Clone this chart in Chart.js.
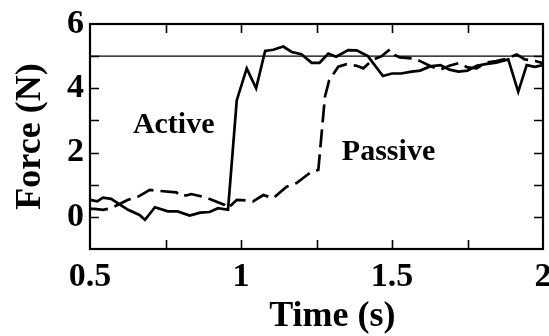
<!DOCTYPE html>
<html><head><meta charset="utf-8">
<style>html,body{margin:0;padding:0;background:#fff}#wrap{width:549px;height:336px;position:relative}</style>
<script src="https://cdn.jsdelivr.net/npm/chart.js@4.4.0/dist/chart.umd.min.js"></script>
</head><body><div id="wrap"><canvas id="c" width="549" height="336"></canvas></div>
<script>
const activeTime  = [0.500,0.524,0.543,0.570,0.626,0.664,0.682,0.715,0.758,0.790,0.830,0.865,0.896,0.924,0.957,0.986,1.019,1.050,1.080,1.107,1.140,1.168,1.200,1.234,1.260,1.289,1.315,1.355,1.383,1.420,1.470,1.500,1.530,1.565,1.593,1.626,1.660,1.690,1.720,1.750,1.780,1.810,1.845,1.885,1.918,1.946,1.973,2.000];
const activeForce = [0.53,0.48,0.60,0.56,0.22,0.06,-0.09,0.30,0.17,0.17,0.04,0.13,0.15,0.27,0.22,3.63,4.62,4.00,5.16,5.20,5.30,5.13,5.06,4.79,4.79,5.08,4.98,5.19,5.18,5.00,4.38,4.46,4.46,4.52,4.55,4.68,4.72,4.58,4.52,4.55,4.70,4.75,4.80,4.90,3.89,4.72,4.67,4.72];
const passiveTime  = [0.500,0.515,0.543,0.570,0.626,0.660,0.698,0.714,0.786,0.802,0.825,0.835,0.863,0.890,0.946,0.957,0.986,1.019,1.040,1.074,1.107,1.151,1.184,1.234,1.256,1.278,1.292,1.322,1.350,1.383,1.405,1.435,1.466,1.493,1.510,1.526,1.565,1.590,1.630,1.660,1.690,1.720,1.750,1.780,1.810,1.845,1.880,1.913,1.940,1.975,2.000];
const passiveForce = [0.25,0.25,0.22,0.27,0.53,0.63,0.84,0.82,0.76,0.65,0.68,0.71,0.65,0.58,0.37,0.27,0.53,0.51,0.48,0.68,0.58,0.94,1.05,1.41,1.46,3.74,4.25,4.67,4.75,4.70,4.62,4.88,5.00,5.21,5.03,4.96,4.93,4.86,4.68,4.58,4.70,4.78,4.65,4.62,4.80,4.85,4.92,5.05,4.90,4.85,4.78];
const refTime  = [0.5, 2.0];
const refForce = [5, 5];
const xTickLabels = [0.5, 1, 1.5, 2];
const yTickLabels = [0, 2, 4, 6];
const xTickMarks = [0.75, 1, 1.25, 1.5, 1.75];
const yTickMarks = [0, 1, 2, 3, 4, 5];
const seriesNames = ['Active', 'Passive'];
const xTitle = 'Time (s)';
const yTitle = 'Force (N)';

const FONT = '"Liberation Serif", "Times New Roman", serif';
const toPts = (t, f) => t.map((v, i) => ({x: v, y: f[i]}));

const labelPlugin = {
  id: 'frameAndLabels',
  afterDatasetsDraw(chart) {
    const {ctx, chartArea: a, scales: {x, y}} = chart;
    ctx.save();
    ctx.strokeStyle = '#000';
    ctx.lineWidth = 1.6;
    const L = 9;
    ctx.beginPath();
    xTickMarks.forEach(v => {
      const px = Math.round(x.getPixelForValue(v)) + 0.5;
      ctx.moveTo(px, a.bottom); ctx.lineTo(px, a.bottom - L);
      ctx.moveTo(px, a.top); ctx.lineTo(px, a.top + L);
    });
    yTickMarks.forEach(v => {
      const py = Math.round(y.getPixelForValue(v)) + 0.5;
      ctx.moveTo(a.left, py); ctx.lineTo(a.left + L, py);
      ctx.moveTo(a.right, py); ctx.lineTo(a.right - L, py);
    });
    ctx.stroke();
    ctx.lineWidth = 2.2;
    ctx.strokeRect(a.left, a.top, a.right - a.left, a.bottom - a.top);
    ctx.fillStyle = '#000';
    ctx.font = 'bold 30px ' + FONT;
    ctx.textBaseline = 'alphabetic';
    ctx.textAlign = 'left';
    ctx.fillText(seriesNames[0], x.getPixelForValue(0.642), y.getPixelForValue(2.61));
    ctx.fillText(seriesNames[1], x.getPixelForValue(1.334), y.getPixelForValue(1.77));
    ctx.font = 'bold 36px ' + FONT;
    ctx.textAlign = 'center';
    ctx.fillText(xTitle, a.left + (a.right - a.left) * 0.535, chart.height - 10);
    ctx.restore();
  }
};

new Chart(document.getElementById('c'), {
  type: 'scatter',
  data: {
    datasets: [
      {label: 'Reference', data: toPts(refTime, refForce), showLine: true, borderColor: '#000', borderWidth: 1.4, pointRadius: 0},
      {label: seriesNames[0], data: toPts(activeTime, activeForce), showLine: true, borderColor: '#000', borderWidth: 2.7, pointRadius: 0, tension: 0},
      {label: seriesNames[1], data: toPts(passiveTime, passiveForce), showLine: true, borderColor: '#000', borderWidth: 2.7, pointRadius: 0, tension: 0, borderDash: [18, 7]}
    ]
  },
  options: {
    responsive: false,
    animation: false,
    devicePixelRatio: 1,
    layout: {padding: {top: 24, right: 6, left: 0, bottom: 0}},
    plugins: {legend: {display: false}, tooltip: {enabled: false}},
    scales: {
      x: {
        type: 'linear', min: 0.5, max: 2,
        grid: {display: false, drawTicks: false},
        border: {display: false},
        ticks: {color: '#000', font: {family: FONT, size: 34, weight: 'bold'}, padding: 8, maxRotation: 0,
                callback: v => String(v)},
        afterBuildTicks: s => { s.ticks = xTickLabels.map(v => ({value: v})); },
        afterFit: s => { s.height = 87; s.paddingLeft = 0; s.paddingRight = 0; }
      },
      y: {
        type: 'linear', min: -1, max: 6,
        grid: {display: false, drawTicks: false},
        border: {display: false},
        ticks: {color: '#000', font: {family: FONT, size: 34, weight: 'bold'}, padding: 6,
                callback: v => String(v)},
        afterBuildTicks: s => { s.ticks = yTickLabels.map(v => ({value: v})); },
        afterFit: s => { s.width = 90; s.paddingTop = 0; s.paddingBottom = 0; },
        title: {display: true, text: yTitle, color: '#000', font: {family: FONT, size: 36, weight: 'bold'}, padding: {top: 9, bottom: 0}}
      }
    }
  },
  plugins: [labelPlugin]
});
</script></body></html>
